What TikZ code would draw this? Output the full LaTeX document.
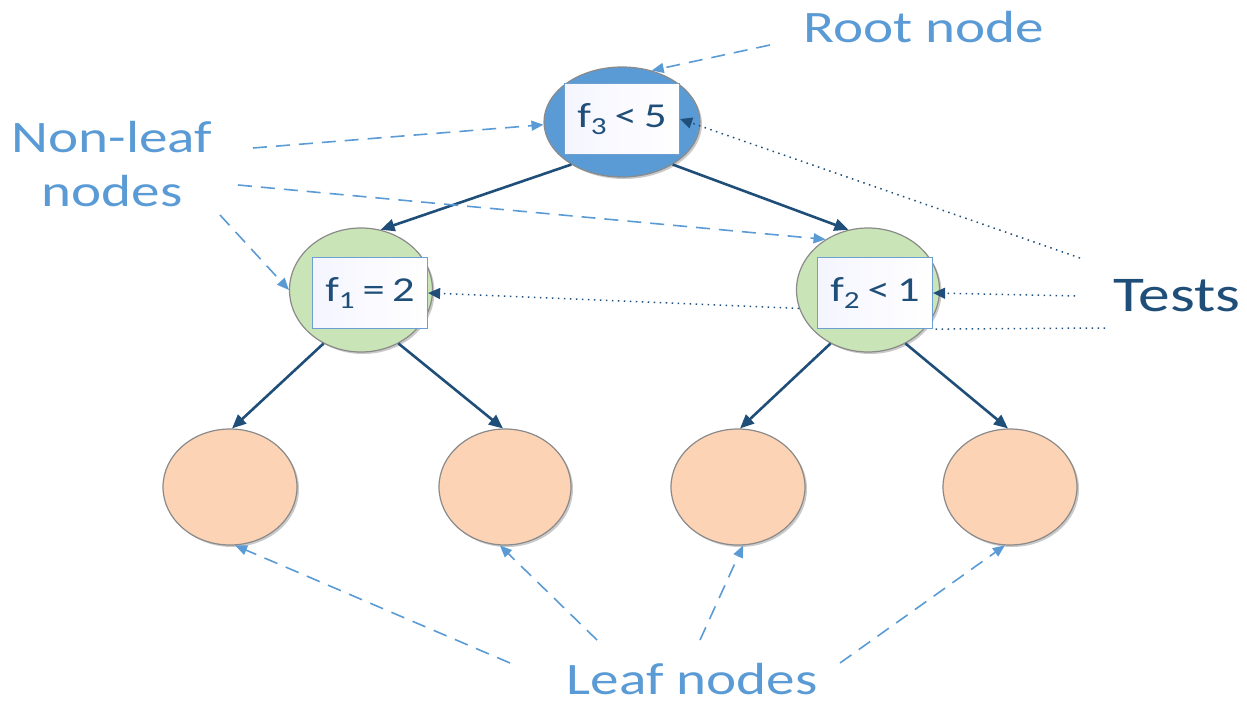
\documentclass[tikz,border=0pt]{standalone}
\usepackage{fontspec}
\setmainfont{Carlito}
\usetikzlibrary{arrows.meta,shadows,shapes.geometric}
\definecolor{lblue}{HTML}{5B9BD5}
\definecolor{dblue}{HTML}{1F4E79}
\definecolor{rootfill}{HTML}{5B9BD5}
\definecolor{greenfill}{HTML}{C9E4B6}
\definecolor{leaffill}{HTML}{FDD3B5}
\definecolor{boxline}{HTML}{6C9FD2}
\definecolor{rimgray}{HTML}{8A8A8A}
% text is set slightly widened throughout
\newcommand{\wide}[1]{\scalebox{1.27}[1]{#1}}
\tikzset{
  x=1pt, y=-1pt,
  treenode/.style={ellipse, draw=rimgray, line width=1.2pt,
    drop shadow={shadow xshift=2pt, shadow yshift=-2pt, opacity=0.35, fill=black!60}},
  testbox/.style={draw=boxline, line width=1.2pt, left color=blue!4, right color=white,
    minimum width=115pt, minimum height=71pt, inner sep=0pt, text=dblue,
    font=\fontsize{35}{40}\selectfont},
  branch/.style={draw=dblue, line width=2.6pt, -{Triangle[length=14pt,width=12pt]}},
  callout/.style={draw=lblue, line width=1.6pt, dash pattern=on 14pt off 9pt,
    -{Triangle[length=12pt,width=10pt]}},
  testline/.style={draw=dblue, line width=1.5pt, dash pattern=on 1.5pt off 4.5pt},
  testarrow/.style={testline, -{Triangle[length=12pt,width=11pt]}},
  labeltext/.style={text=lblue, font=\fontsize{45}{54}\selectfont, anchor=base, inner sep=0pt}
}
\begin{document}
\begin{tikzpicture}
\useasboundingbox (0,0) rectangle (1247,703);

% tree nodes
\node[treenode, fill=rootfill, minimum width=156pt, minimum height=110pt] (root) at (622,122) {};
\node[treenode, fill=greenfill, minimum width=143pt, minimum height=124pt] (left) at (361,290) {};
\node[treenode, fill=greenfill, minimum width=143pt, minimum height=124pt] (right) at (868,290) {};
\node[treenode, fill=leaffill, minimum width=134pt, minimum height=116pt] (l1) at (230,487) {};
\node[treenode, fill=leaffill, minimum width=132pt, minimum height=116pt] (l2) at (505,487) {};
\node[treenode, fill=leaffill, minimum width=134pt, minimum height=116pt] (l3) at (738,487) {};
\node[treenode, fill=leaffill, minimum width=134pt, minimum height=116pt] (l4) at (1010,487) {};

% test boxes
\node[testbox] (troot) at (622,119) {\wide{f\textsubscript{3}\,<\,5}};
\node[testbox] (tleft) at (370,293) {\wide{f\textsubscript{1}\,=\,2}};
\node[testbox] (tright) at (875,293) {\wide{f\textsubscript{2}\,<\,1}};

% branches
\draw[branch] (root.220) -- (left.72);
\draw[branch] (root.320) -- (right.108);
\draw[branch] (left.235) -- (l1.88);
\draw[branch] (left.305) -- (l2.92);
\draw[branch] (right.235) -- (l3.88);
\draw[branch] (right.305) -- (l4.92);

% labels
\node[labeltext] (rootlbl) at (924,43) {\wide{Root node}};
\node[labeltext] (nonleaf) at (112,153)
  {\wide{\begin{tabular}[t]{@{}c@{}}Non-leaf\\nodes\end{tabular}}};
\node[labeltext] (leaflbl) at (692,694) {\wide{Leaf nodes}};
\node[labeltext, text=dblue, font=\fontsize{50}{56}\selectfont] (tests) at (1177,312) {\wide{Tests}};

% dashed callouts
\coordinate (rootsrc) at (770,45);
\draw[callout] (rootsrc) -- (root.60);
\coordinate (nl1) at (253,148);
\coordinate (nl2) at (238,185);
\coordinate (nl3) at (220,215);
\draw[callout] (nl1) -- (root.182);
\draw[callout] (nl2) -- (right.130);
\draw[callout] (nl3) -- (left.180);
\coordinate (lf1) at (510,663);
\coordinate (lf2) at (597,640);
\coordinate (lf3) at (700,640);
\coordinate (lf4) at (840,663);
\draw[callout] (lf1) -- (l1.275);
\draw[callout] (lf2) -- (l2.265);
\draw[callout] (lf3) -- (l3.275);
\draw[callout] (lf4) -- (l4.265);

% dotted test pointers
\coordinate (ts1) at (1080,258);
\coordinate (ts2) at (1075,296);
\coordinate (ts3) at (1105,328);
\draw[testarrow] (ts1) -- (troot.east);
\draw[testarrow] (ts2) -- (tright.east);
\draw[testline] (ts3) -- (tright.south east);
\draw[testarrow] (right.195) -- (tleft.east);
\end{tikzpicture}
\end{document}
